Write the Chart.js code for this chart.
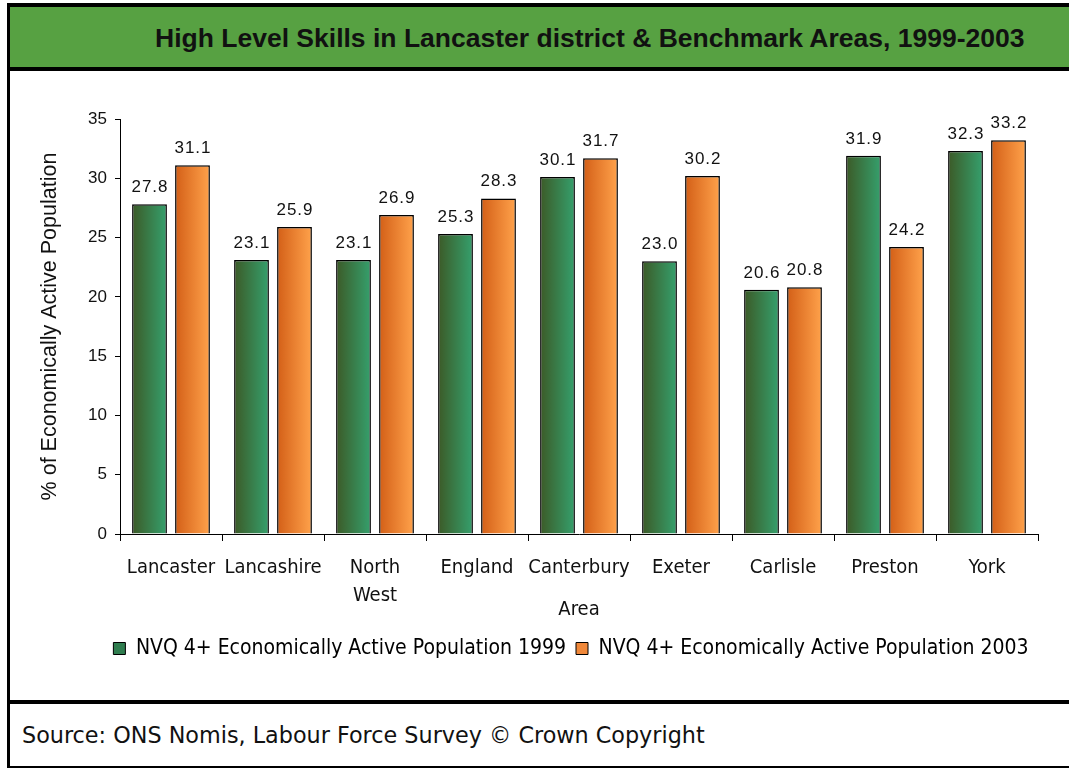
<!DOCTYPE html>
<html>
<head>
<meta charset="utf-8">
<title>High Level Skills</title>
<script src="https://cdn.jsdelivr.net/npm/chart.js@4.4.0/dist/chart.umd.min.js"></script>
<style>
  body { margin: 0; background: #fff; width: 1069px; height: 769px; overflow: hidden;
         font-family: "Liberation Sans", Arial, sans-serif; color: #111; }
  #marco { position: absolute; left: 7px; top: 3px; width: 1070px;
           border-left: 3px solid #000; border-top: 4px solid #000; border-bottom: 2px solid #000; }
  #cabecera { height: 57px; padding-top: 3px; background: #57a142; border-bottom: 4px solid #000;
              font-weight: bold; font-size: 26.5px; line-height: 57px; padding-left: 145px; white-space: nowrap; }
  #zona-grafico { position: relative; height: 629px; border-bottom: 4px solid #000; }
  #grafico { display: block; }
  #pie { height: 62px; line-height: 62px; font-size: 22.3px; padding-left: 12px;
         font-family: "DejaVu Sans", sans-serif; }
</style>
</head>
<body>
<div id="marco">
  <div id="cabecera">High Level Skills in Lancaster district &amp; Benchmark Areas, 1999-2003</div>
  <div id="zona-grafico"><canvas id="grafico" width="1059" height="629"></canvas></div>
  <div id="pie">Source: ONS Nomis, Labour Force Survey © Crown Copyright</div>
</div>
<script>
  const areas = ['Lancaster', 'Lancashire', ['North', 'West'], 'England', 'Canterbury', 'Exeter', 'Carlisle', 'Preston', 'York'];
  const nvq1999 = [27.8, 23.1, 23.1, 25.3, 30.1, 23.0, 20.6, 31.9, 32.3];
  const nvq2003 = [31.1, 25.9, 26.9, 28.3, 31.7, 30.2, 20.8, 24.2, 33.2];
  const series = ['NVQ 4+ Economically Active Population 1999', 'NVQ 4+ Economically Active Population 2003'];
  const yTicks = [0, 5, 10, 15, 20, 25, 30, 35];

  const CAT_PCT = 0.843;
  const BAR_PCT = 0.81;
  const colores = [
    { izq: '#3c5a27', der: '#35a06d', plano: '#2f7d4f' },
    { izq: '#d35f17', der: '#ffa24b', plano: '#f0883a' }
  ];

  // degradado horizontal de cada barra, calculado desde la escala x
  function degradado(ctx) {
    const chart = ctx.chart;
    const col = colores[ctx.datasetIndex];
    const xs = chart.scales.x;
    if (!xs || ctx.dataIndex === undefined) return col.plano;
    const ancho = xs.width / areas.length;
    const hueco = ancho * CAT_PCT / 2;
    const centro = xs.getPixelForValue(ctx.dataIndex) + (ctx.datasetIndex === 0 ? -hueco / 2 : hueco / 2);
    const mitad = hueco * BAR_PCT / 2;
    const g = chart.ctx.createLinearGradient(centro - mitad, 0, centro + mitad, 0);
    g.addColorStop(0, col.izq);
    g.addColorStop(1, col.der);
    return g;
  }

  const etiquetas = {
    id: 'etiquetas',
    afterDatasetsDraw(chart) {
      const ctx = chart.ctx;
      ctx.save();
      ctx.font = '17px "Liberation Sans", Arial, sans-serif';
      ctx.fillStyle = '#111';
      ctx.textAlign = 'center';
      ctx.textBaseline = 'alphabetic';
      ctx.letterSpacing = '1px';
      chart.data.datasets.forEach((ds, i) => {
        chart.getDatasetMeta(i).data.forEach((barra, j) => {
          ctx.fillText(ds.data[j].toFixed(1), barra.x + 0.5, barra.y - 12);
        });
      });
      ctx.restore();
    }
  };

  // centra la leyenda bajo el area de trazado
  const leyendaCentrada = {
    id: 'leyendaCentrada',
    afterLayout(chart) {
      const l = chart.legend;
      const a = chart.chartArea;
      const d = (a.left + a.right) / 2 - (l.left + l.right) / 2 - 8;
      l.left += d;
      l.right += d;
    }
  };

  const fuente = '"Liberation Sans", Arial, sans-serif';
  const fuenteAncha = '"DejaVu Sans Condensed", "DejaVu Sans", sans-serif';

  new Chart(document.getElementById('grafico'), {
    type: 'bar',
    data: {
      labels: areas,
      datasets: [
        { label: series[0], data: nvq1999, backgroundColor: degradado, borderColor: '#000', borderWidth: 1.5,
          categoryPercentage: CAT_PCT, barPercentage: BAR_PCT },
        { label: series[1], data: nvq2003, backgroundColor: degradado, borderColor: '#000', borderWidth: 1.5,
          categoryPercentage: CAT_PCT, barPercentage: BAR_PCT }
      ]
    },
    options: {
      responsive: false,
      animation: false,
      devicePixelRatio: 1,
      layout: { padding: { top: 48, right: 31, bottom: 31, left: 0 } },
      plugins: {
        title: { display: false },
        tooltip: { enabled: false },
        legend: {
          position: 'bottom',
          labels: {
            boxWidth: 12,
            boxHeight: 12,
            padding: 10,
            color: '#111',
            font: { family: fuenteAncha, size: 21 },
            generateLabels(chart) {
              return chart.data.datasets.map((ds, i) => ({
                text: ds.label,
                fillStyle: colores[i].plano,
                strokeStyle: '#000',
                lineWidth: 1,
                datasetIndex: i,
                hidden: false
              }));
            }
          }
        }
      },
      scales: {
        x: {
          offset: true,
          border: { color: '#000', width: 1 },
          grid: { offset: true, drawOnChartArea: false, tickLength: 7, color: '#000' },
          ticks: { color: '#111', font: { family: fuenteAncha, size: 20, lineHeight: 1.4 }, padding: 13,
                   maxRotation: 0, autoSkip: false },
          title: { display: true, text: 'Area', color: '#111', font: { family: fuenteAncha, size: 20 },
                   padding: { top: 0, bottom: 6 } },
          afterFit(scale) { scale.height = 94; }
        },
        y: {
          min: 0,
          max: 35,
          afterBuildTicks(scale) { scale.ticks = yTicks.map(v => ({ value: v })); },
          border: { color: '#000', width: 1 },
          grid: { drawOnChartArea: false, tickLength: 5, color: '#000' },
          ticks: { color: '#111', font: { family: fuente, size: 17 }, padding: 8 },
          title: { display: true, text: '% of Economically Active Population', color: '#111',
                   font: { family: fuente, size: 21.5 }, padding: { top: 27, bottom: 0 } },
          afterFit(scale) { scale.width = 110; }
        }
      }
    },
    plugins: [etiquetas, leyendaCentrada]
  });
</script>
</body>
</html>
